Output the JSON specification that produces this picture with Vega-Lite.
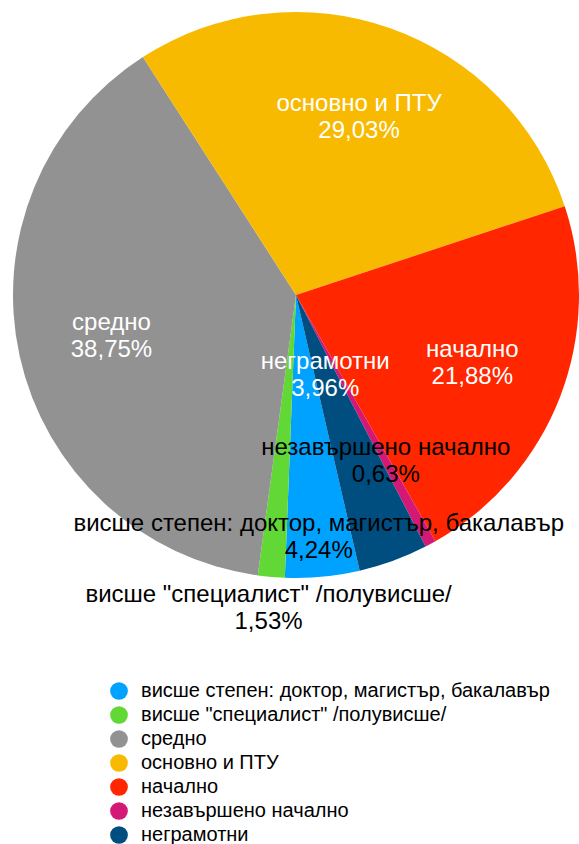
{
  "$schema": "https://vega.github.io/schema/vega-lite/v6.json",
  "width": 566,
  "height": 566,
  "autosize": {"type": "none"},
  "padding": {"left": 13, "top": 12, "right": 0, "bottom": 266},
  "background": "white",
  "config": {"view": {"stroke": null}, "font": "Liberation Sans"},
  "data": {
    "values": [
      {"category": "висше степен: доктор, магистър, бакалавър", "value": 4.24, "rank": 1, "label": "висше степен: доктор, магистър, бакалавър\n4,24%"},
      {"category": "висше \"специалист\" /полувисше/", "value": 1.53, "rank": 2, "label": "висше \"специалист\" /полувисше/\n1,53%"},
      {"category": "средно", "value": 38.75, "rank": 3, "label": "средно\n38,75%"},
      {"category": "основно и ПТУ", "value": 29.03, "rank": 4, "label": "основно и ПТУ\n29,03%"},
      {"category": "начално", "value": 21.88, "rank": 5, "label": "начално\n21,88%"},
      {"category": "незавършено начално", "value": 0.63, "rank": 6, "label": "незавършено начално\n0,63%"},
      {"category": "неграмотни", "value": 3.96, "rank": 7, "label": "неграмотни\n3,96%"}
    ]
  },
  "encoding": {
    "theta": {"field": "value", "type": "quantitative", "stack": true, "scale": {"range": [2.9147, 9.1979]}},
    "order": {"field": "rank", "type": "quantitative"}
  },
  "layer": [
    {
      "mark": {"type": "arc"},
      "encoding": {
        "color": {
          "field": "category",
          "type": "nominal",
          "scale": {
            "domain": ["висше степен: доктор, магистър, бакалавър", "висше \"специалист\" /полувисше/", "средно", "основно и ПТУ", "начално", "незавършено начално", "неграмотни"],
            "range": ["#00A2FF", "#61D836", "#929292", "#F8BA00", "#FF2600", "#D31876", "#004D80"]
          },
          "legend": {
            "title": null,
            "orient": "none",
            "legendX": 96,
            "legendY": 669,
            "symbolType": "circle",
            "symbolSize": 314,
            "symbolStrokeWidth": 0,
            "labelFontSize": 20,
            "labelFont": "Liberation Sans",
            "labelColor": "black",
            "labelLimit": 600,
            "rowPadding": 4,
            "labelOffset": 12
          }
        }
      }
    },
    {
      "mark": {"type": "text", "fontSize": 24, "lineHeight": 27, "lineBreak": "\n", "align": "center", "baseline": "middle", "dy": -13},
      "encoding": {
        "radius": {"value": 189},
        "text": {"condition": {"test": "datum.rank === 3 || datum.rank === 4 || datum.rank === 5 || datum.rank === 6", "field": "label", "type": "nominal"}, "value": ""},
        "color": {"condition": {"test": "datum.rank === 6", "value": "black"}, "value": "white"}
      }
    },
    {
      "mark": {"type": "text", "fontSize": 24, "lineHeight": 27, "lineBreak": "\n", "align": "center", "baseline": "middle", "dy": -13, "color": "white"},
      "encoding": {
        "radius": {"value": 85},
        "text": {"condition": {"test": "datum.rank === 7", "field": "label", "type": "nominal"}, "value": ""}
      }
    },
    {
      "mark": {"type": "text", "fontSize": 24, "lineHeight": 27, "lineBreak": "\n", "align": "center", "baseline": "middle", "dy": -13, "color": "black"},
      "encoding": {
        "radius": {"value": 243},
        "text": {"condition": {"test": "datum.rank === 1", "field": "label", "type": "nominal"}, "value": ""}
      }
    },
    {
      "mark": {"type": "text", "fontSize": 24, "lineHeight": 27, "lineBreak": "\n", "align": "center", "baseline": "middle", "dy": -13, "color": "black"},
      "encoding": {
        "radius": {"value": 314},
        "text": {"condition": {"test": "datum.rank === 2", "field": "label", "type": "nominal"}, "value": ""}
      }
    }
  ]
}
